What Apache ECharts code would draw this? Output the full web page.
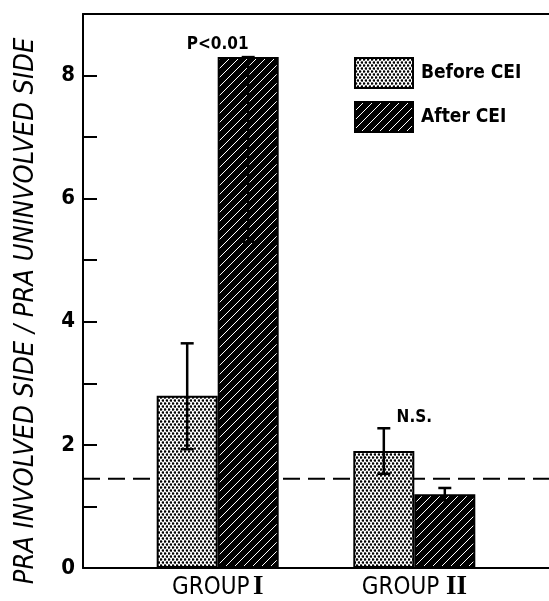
<!DOCTYPE html>
<html>
<head>
<meta charset="utf-8">
<script src="https://cdn.jsdelivr.net/npm/echarts@6/dist/echarts.min.js"></script>
<style>
  html, body { margin: 0; padding: 0; background: #fff; }
  #chart { width: 549px; height: 601px; }
</style>
</head>
<body>
<div id="chart"></div>
<script>
// ---- data ----
const groups = ['GROUP I', 'GROUP II'];
const groupPos = [1, 2];
const beforeCEI = [2.8, 1.9];
const afterCEI = [8.3, 1.2];
const beforeLow = [1.93, 1.53];
const beforeHigh = [3.65, 2.27];
const afterLow = [5.3, 1.1];
const afterHigh = [8.3, 1.3];
const yTickLabels = [0, 2, 4, 6, 8];
const referenceLevel = 1.45;
const notes = ['P<0.01', 'N.S.'];
const noteLevel = [8.5, 2.45];

// ---- layout / style ----
const X_MIN = 0.315, X_MAX = 2.685;
const BAR_W = 61;
const CAP = 6.5;
const COND = "'DejaVu Sans Condensed', 'Liberation Sans Narrow', 'DejaVu Sans', sans-serif";

// stippled fill for the "before" bars
function dotPattern() {
  const c = document.createElement('canvas');
  c.width = 4; c.height = 6;
  const g = c.getContext('2d');
  g.fillStyle = '#fff'; g.fillRect(0, 0, 4, 6);
  g.fillStyle = '#000';
  [[1, 1.5], [3, 4.5]].forEach(([x, y]) => {
    g.beginPath(); g.arc(x, y, 1.3, 0, Math.PI * 2); g.fill();
  });
  return c;
}
// black fill with thin white diagonals for the "after" bars
function hatchPattern() {
  const s = 9;
  const c = document.createElement('canvas');
  c.width = s; c.height = s;
  const g = c.getContext('2d');
  g.fillStyle = '#000'; g.fillRect(0, 0, s, s);
  g.strokeStyle = '#fff'; g.lineWidth = 1;
  [[0, s, s, 0], [-s / 2, s / 2, s / 2, -s / 2], [s / 2, s * 1.5, s * 1.5, s / 2]].forEach(([a, b, cc, d]) => {
    g.beginPath(); g.moveTo(a, b); g.lineTo(cc, d); g.stroke();
  });
  return c;
}
const dotFill = { image: dotPattern(), repeat: 'repeat' };
const hatchFill = { image: hatchPattern(), repeat: 'repeat' };

const errRows = [];
groupPos.forEach((x, i) => {
  errRows.push([x, beforeLow[i], beforeHigh[i], -1]);
  errRows.push([x, afterLow[i], afterHigh[i], 1]);
});

const chart = echarts.init(document.getElementById('chart'), null, { renderer: 'canvas' });
chart.setOption({
  animation: false,
  backgroundColor: '#fff',
  grid: { left: 83, right: 0, top: 14, bottom: 31 },
  legend: {
    orient: 'vertical',
    left: 349,
    top: 52,
    itemWidth: 58,
    itemHeight: 30,
    itemGap: 12,
    icon: 'rect',
    data: ['Before CEI', 'After CEI'],
    textStyle: { fontFamily: COND, fontSize: 19, fontWeight: 'bold', color: '#000', padding: [0, 0, 0, 3] }
  },
  xAxis: [{
    type: 'value',
    min: X_MIN,
    max: X_MAX,
    axisLine: { show: true, lineStyle: { color: '#000', width: 2 } },
    axisTick: { show: false },
    splitLine: { show: false },
    axisLabel: {
      customValues: groupPos,
      margin: 6,
      formatter: v => {
        const i = groupPos.indexOf(v);
        if (i < 0) return '';
        const parts = groups[i].split(' ');
        return '{g|' + parts[0] + '}' + (i === 1 ? '  ' : ' ') + '{r|' + parts[1] + '}';
      },
      rich: {
        g: { fontFamily: COND, fontSize: 24, color: '#000' },
        r: { fontFamily: "'Liberation Serif', 'DejaVu Serif', serif", fontSize: 27, fontWeight: 'bold', color: '#000' }
      }
    }
  }, {
    type: 'value',
    position: 'top',
    min: X_MIN,
    max: X_MAX,
    axisLine: { show: true, lineStyle: { color: '#000', width: 2 } },
    axisTick: { show: false },
    axisLabel: { show: false },
    splitLine: { show: false }
  }],
  yAxis: {
    type: 'value',
    min: 0,
    max: 9,
    interval: 1,
    name: 'PRA INVOLVED SIDE / PRA UNINVOLVED SIDE',
    nameLocation: 'middle',
    nameRotate: 90,
    nameGap: 44,
    nameTextStyle: {
      fontFamily: COND, fontStyle: 'italic', fontSize: 27, color: '#000',
      padding: [0, 40, 0, 0]
    },
    axisLine: { show: true, lineStyle: { color: '#000', width: 2 } },
    axisTick: { show: true, inside: true, length: 14, lineStyle: { color: '#000', width: 2 } },
    splitLine: { show: false },
    axisLabel: {
      margin: 8,
      fontFamily: COND, fontSize: 22, fontWeight: 'bold', color: '#000',
      formatter: v => (yTickLabels.indexOf(v) >= 0 ? String(v) : '')
    }
  },
  series: [
    {
      type: 'line',
      silent: true,
      z: 1,
      symbol: 'none',
      lineStyle: { color: '#000', width: 2, type: [17, 8] },
      data: [[X_MIN, referenceLevel], [X_MAX, referenceLevel]]
    },
    {
      name: 'Before CEI',
      type: 'bar',
      z: 2,
      barWidth: BAR_W,
      barGap: '0%',
      itemStyle: { color: dotFill, borderColor: '#000', borderWidth: 2 },
      data: groupPos.map((x, i) => [x, beforeCEI[i]])
    },
    {
      name: 'After CEI',
      type: 'bar',
      z: 2,
      barWidth: BAR_W,
      barGap: '0%',
      itemStyle: { color: hatchFill, borderColor: '#000', borderWidth: 2 },
      data: groupPos.map((x, i) => [x, afterCEI[i]])
    },
    {
      type: 'custom',
      z: 5,
      silent: true,
      encode: { x: 0, y: [1, 2] },
      data: errRows,
      renderItem: (params, api) => {
        const x = api.value(0), lo = api.value(1), hi = api.value(2), side = api.value(3);
        const pLo = api.coord([x, lo]);
        const pHi = api.coord([x, hi]);
        const cx = pLo[0] + side * BAR_W / 2;
        const st = { stroke: '#000', lineWidth: 2.5 };
        return {
          type: 'group',
          children: [
            { type: 'line', shape: { x1: cx, y1: pLo[1], x2: cx, y2: pHi[1] }, style: st },
            { type: 'line', shape: { x1: cx - CAP, y1: pLo[1], x2: cx + CAP, y2: pLo[1] }, style: st },
            { type: 'line', shape: { x1: cx - CAP, y1: pHi[1], x2: cx + CAP, y2: pHi[1] }, style: st }
          ]
        };
      }
    },
    {
      type: 'custom',
      z: 6,
      silent: true,
      encode: { x: 0, y: 1 },
      data: groupPos.map((x, i) => [x, noteLevel[i]]),
      renderItem: (params, api) => {
        const p = api.coord([api.value(0), api.value(1)]);
        return {
          type: 'text',
          x: p[0], y: p[1],
          style: {
            text: notes[params.dataIndex],
            align: 'center', verticalAlign: 'middle',
            fill: '#000',
            font: 'bold 17px ' + COND
          }
        };
      }
    }
  ]
});
</script>
</body>
</html>
